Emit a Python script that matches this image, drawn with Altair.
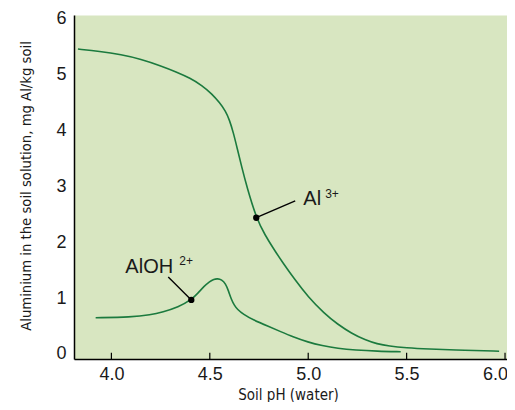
import altair as alt
import pandas as pd

# ---- data ----
al3_ph = [3.83, 3.94, 4.05, 4.15, 4.25, 4.33, 4.40, 4.46, 4.51, 4.55, 4.58, 4.60, 4.62,
          4.64, 4.66, 4.69, 4.736, 4.78, 4.83, 4.87, 4.93, 5.00, 5.08, 5.15, 5.22,
          5.29, 5.35, 5.41, 5.50, 5.60, 5.80, 5.97]
al3_val = [5.46, 5.42, 5.36, 5.28, 5.16, 5.05, 4.94, 4.81, 4.66, 4.50, 4.35, 4.19, 3.96,
           3.67, 3.38, 2.97, 2.44, 2.13, 1.85, 1.64, 1.34, 1.02, 0.73, 0.53, 0.37,
           0.25, 0.18, 0.14, 0.11, 0.09, 0.065, 0.05]

aloh_ph = [3.92, 4.10, 4.20, 4.26, 4.34, 4.406, 4.44, 4.47, 4.50, 4.52, 4.54, 4.56,
           4.58, 4.595, 4.61, 4.625, 4.64, 4.67, 4.72, 4.80, 4.86, 4.92, 5.00, 5.07,
           5.15, 5.24, 5.35, 5.47]
aloh_val = [0.65, 0.66, 0.70, 0.75, 0.84, 0.97, 1.09, 1.21, 1.30, 1.34, 1.35, 1.33,
            1.26, 1.13, 0.97, 0.87, 0.80, 0.71, 0.61, 0.49, 0.40, 0.31, 0.21, 0.15,
            0.10, 0.07, 0.05, 0.04]

x_ticks = [4.0, 4.5, 5.0, 5.5, 6.0]
y_ticks = [0, 1, 2, 3, 4, 5, 6]
x_domain = [3.81, 6.01]
y_domain = [-0.09, 6.07]

x_title = "Soil pH (water)"
y_title = "Aluminium in the soil solution, mg Al/kg soil"

# annotations
lab_text = ["Al", "AlOH"]
lab_x = [4.975, 4.071]
lab_y = [2.67, 1.457]
sup_text = ["3+", "2+"]
sup_x = [5.086, 4.345]
sup_y = [2.80, 1.595]
dot_x = [4.736, 4.406]
dot_y = [2.44, 0.968]
lead_x = [4.736, 4.289]
lead_y = [2.44, 1.38]
lead_x2 = [4.934, 4.406]
lead_y2 = [2.742, 0.968]

LINE = "#1b7a3e"
BG = "#d8e6c1"
TXT = "#1a1a1a"
NARROW = "Liberation Sans Narrow, DejaVu Sans Condensed, sans-serif"
REG = "Liberation Sans, Arial, sans-serif"

xs = alt.Scale(domain=x_domain, nice=False, zero=False)
ys = alt.Scale(domain=y_domain, nice=False, zero=False)

x_axis = alt.Axis(values=x_ticks, format=".1f", ticks=False, grid=False,
                  domainColor="black", domainWidth=1.5,
                  labelFont=REG, labelFontSize=18, labelColor=TXT, labelPadding=6,
                  labelOffset={"condition": {"test": "datum.value >= 6", "value": -10}, "value": 0},
                  title=x_title, titleFont=NARROW, titleFontSize=15,
                  titleFontWeight="normal", titleColor=TXT,
                  titleX=214, titleY=35, titleBaseline="middle")
y_axis = alt.Axis(values=y_ticks, format="d", ticks=False, grid=False,
                  domainColor="black", domainWidth=1.5,
                  labelFont=REG, labelFontSize=18, labelColor=TXT, labelPadding=8,
                  title=y_title, titleFont=NARROW, titleFontSize=14.7,
                  titleFontWeight="normal", titleColor=TXT,
                  titleX=-48, titleY=170.5, titleAngle=270,
                  titleAlign="center", titleBaseline="middle")

df_al3 = pd.DataFrame({"ph": al3_ph, "val": al3_val})
df_aloh = pd.DataFrame({"ph": aloh_ph, "val": aloh_val})

base_al3 = alt.Chart(df_al3).mark_line(color=LINE, strokeWidth=1.6, interpolate="basis").encode(
    x=alt.X("ph:Q", scale=xs, axis=x_axis),
    y=alt.Y("val:Q", scale=ys, axis=y_axis),
)
line_aloh = alt.Chart(df_aloh).mark_line(color=LINE, strokeWidth=1.6, interpolate="basis").encode(
    x=alt.X("ph:Q", scale=xs),
    y=alt.Y("val:Q", scale=ys),
)

df_ticks = pd.DataFrame({"x": x_ticks, "y": [y_domain[0]] * len(x_ticks),
                         "y2": [y_domain[0] + 0.11] * len(x_ticks)})
ticks = alt.Chart(df_ticks).mark_rule(color="black", strokeWidth=1.2).encode(
    x=alt.X("x:Q", scale=xs), y=alt.Y("y:Q", scale=ys), y2="y2:Q")

df_lead = pd.DataFrame({"x": lead_x, "y": lead_y, "x2": lead_x2, "y2": lead_y2})
leaders = alt.Chart(df_lead).mark_rule(color="black", strokeWidth=1.4).encode(
    x=alt.X("x:Q", scale=xs), y=alt.Y("y:Q", scale=ys), x2="x2:Q", y2="y2:Q")

df_dot = pd.DataFrame({"x": dot_x, "y": dot_y})
dots = alt.Chart(df_dot).mark_point(filled=True, color="black", size=40, opacity=1).encode(
    x=alt.X("x:Q", scale=xs), y=alt.Y("y:Q", scale=ys))

df_lab = pd.DataFrame({"x": lab_x, "y": lab_y, "t": lab_text})
labels = alt.Chart(df_lab).mark_text(align="left", baseline="alphabetic", font=REG,
                                     fontSize=20, color=TXT).encode(
    x=alt.X("x:Q", scale=xs), y=alt.Y("y:Q", scale=ys), text="t:N")

df_sup = pd.DataFrame({"x": sup_x, "y": sup_y, "t": sup_text})
sups = alt.Chart(df_sup).mark_text(align="left", baseline="alphabetic", font=REG,
                                   fontSize=12, color=TXT).encode(
    x=alt.X("x:Q", scale=xs), y=alt.Y("y:Q", scale=ys), text="t:N")

chart = alt.layer(base_al3, line_aloh, ticks, leaders, dots, labels, sups).properties(
    width=433, height=344,
    autosize=alt.AutoSizeParams(type="none"),
    padding={"left": 66, "top": 7, "right": 0, "bottom": 43},
    background="white",
).configure_view(fill=BG, stroke="transparent")

chart.save("out.html", embed_options={"renderer": "svg", "actions": False})
